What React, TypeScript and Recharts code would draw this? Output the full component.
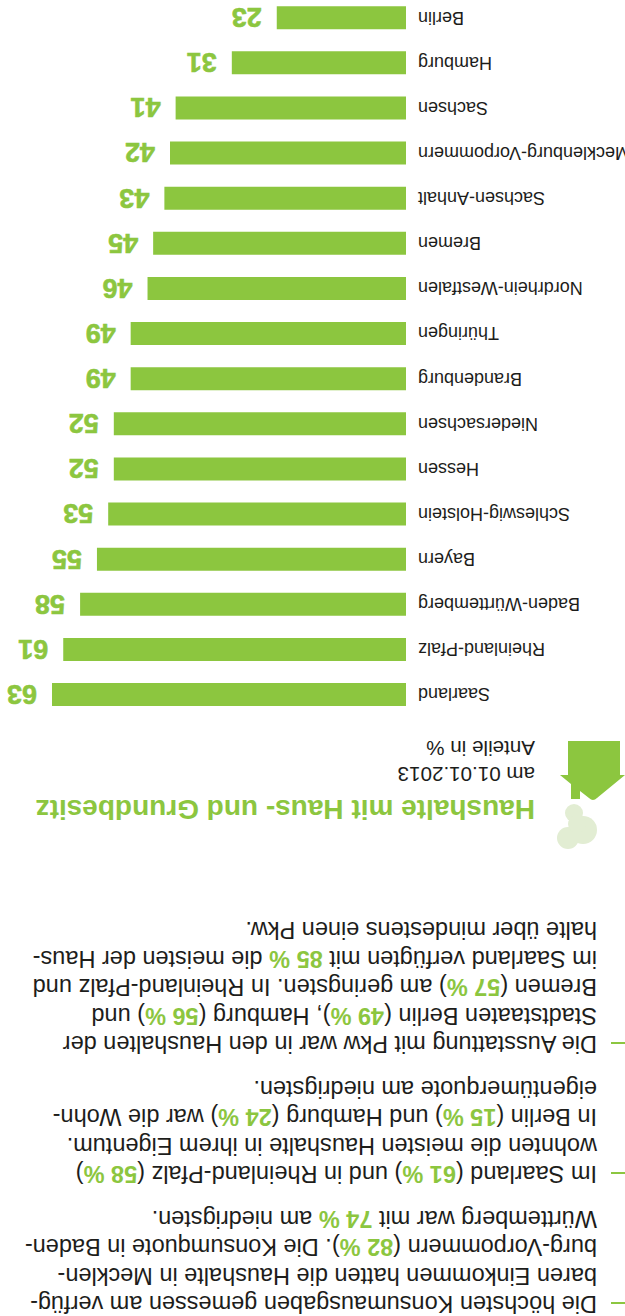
import React from 'react';
import { BarChart, Bar, XAxis, YAxis, LabelList } from 'recharts';

const GREEN = '#8cc63f';
const PALE = '#e2edd3';
const INK = '#1d1d1b';
const FONT = '"Liberation Sans", Arial, sans-serif';

const states = [
    'Saarland', 'Rheinland-Pfalz', 'Baden-Württemberg', 'Bayern', 'Schleswig-Holstein', 'Hessen',
    'Niedersachsen', 'Brandenburg', 'Thüringen', 'Nordrhein-Westfalen', 'Bremen', 'Sachsen-Anhalt',
    'Mecklenburg-Vorpommern', 'Sachsen', 'Hamburg', 'Berlin',
];
const shares = [63, 61, 58, 55, 53, 52, 52, 49, 49, 46, 45, 43, 42, 41, 31, 23];

// *...* marks the green bold numbers
const paragraphs = [
    [
        'Die höchsten Konsumausgaben gemessen am verfüg-',
        'baren Einkommen hatten die Haushalte in Mecklen-',
        'burg-Vorpommern (*82 %*). Die Konsumquote in Baden-',
        'Württemberg war mit *74 %* am niedrigsten.',
    ],
    [
        'Im Saarland (*61 %*) und in Rheinland-Pfalz (*58 %*)',
        'wohnten die meisten Haushalte in ihrem Eigentum.',
        'In Berlin (*15 %*) und Hamburg (*24 %*) war die Wohn-',
        'eigentümerquote am niedrigsten.',
    ],
    [
        'Die Ausstattung mit Pkw war in den Haushalten der',
        'Stadtstaaten Berlin (*49 %*), Hamburg (*56 %*) und',
        'Bremen (*57 %*) am geringsten. In Rheinland-Pfalz und',
        'im Saarland verfügten mit *85 %* die meisten der Haus-',
        'halte über mindestens einen Pkw.',
    ],
];
const paragraphTops = [20, 150, 280];

const title = 'Haushalte mit Haus- und Grundbesitz';
const subtitle = ['am 01.01.2013', 'Anteile in %'];

const data = states.map((name, i) => ({ name, value: shares[i] }));

const StateTick = ({ x, y, payload }: any) => (
    <text x={x} y={y + 6} textAnchor="end" fontFamily={FONT} fontSize={18} fill={INK}>
        {payload.value}
    </text>
);

const Line = ({ text, y }: { text: string; y: number }) => (
    <text x={28} y={y} fontFamily={FONT} fontSize={23.5} fill={INK} xmlSpace="preserve">
        {text.split('*').map((part, i) =>
            i % 2 ? (
                <tspan key={i} fill={GREEN} fontWeight="bold">{part}</tspan>
            ) : (
                <tspan key={i}>{part}</tspan>
            )
        )}
    </text>
);

const Overlay = () => (
    <svg width={625} height={1316} style={{ position: 'absolute', left: 0, top: 0 }}>
        {paragraphs.map((lines, p) => (
            <g key={p}>
                <rect x={0} y={paragraphTops[p] - 8} width={14} height={2} fill={GREEN} />
                {lines.map((l, i) => (
                    <Line key={i} text={l} y={paragraphTops[p] + i * 28.5} />
                ))}
            </g>
        ))}

        {/* house with smoke */}
        <path d="M5 575 V541 H0 L28 518 Q32 514 36 518 L45 525 V517 H54 V532 L65 541 H57 V575 Z" fill={GREEN} />
        <circle cx={51} cy={503} r={9} fill={PALE} />
        <circle cx={42} cy={486} r={14} fill={PALE} />
        <circle cx={57} cy={478} r={11} fill={PALE} />
        <circle cx={48} cy={492} r={9} fill={PALE} />

        <text x={90} y={516} fontFamily={FONT} fontWeight="bold" fontSize={28} fill={GREEN}>{title}</text>
        {subtitle.map((s, i) => (
            <text key={s} x={90} y={549 + i * 26} fontFamily={FONT} fontSize={20.6} fill={INK}>{s}</text>
        ))}
    </svg>
);

export default function App() {
    return (
        <div
            style={{
                position: 'absolute',
                left: 0,
                top: 0,
                width: 625,
                height: 1316,
                overflow: 'hidden',
                background: '#fff',
                transform: 'rotate(180deg)',
            }}
        >
            <BarChart
                width={625}
                height={1330}
                data={data}
                layout="vertical"
                margin={{ top: 599, right: 52, bottom: 9, left: 0 }}
                barSize={23}
            >
                <XAxis type="number" hide domain={[0, 63]} />
                <YAxis
                    type="category"
                    dataKey="name"
                    width={219}
                    interval={0}
                    tickLine={false}
                    axisLine={false}
                    tickSize={0}
                    tickMargin={12}
                    tick={<StateTick />}
                />
                <Bar dataKey="value" fill={GREEN} isAnimationActive={false}>
                    <LabelList
                        dataKey="value"
                        position="right"
                        offset={15}
                        fill={GREEN}
                        stroke={GREEN}
                        strokeWidth={0.6}
                        fontFamily={FONT}
                        fontWeight="bold"
                        fontSize={27}
                    />
                </Bar>
            </BarChart>
            <Overlay />
        </div>
    );
}
